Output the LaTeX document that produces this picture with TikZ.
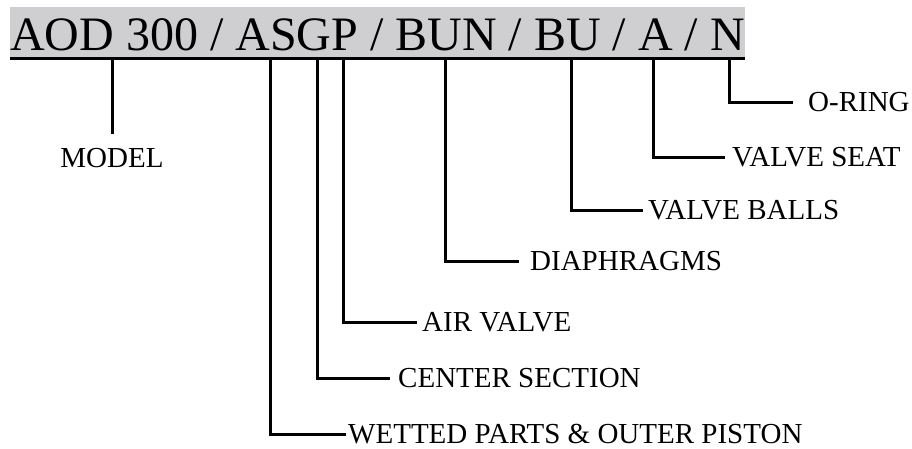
\documentclass[tikz,border=0pt]{standalone}
\usepackage{fontspec}
\setmainfont{Liberation Serif}
\definecolor{bandgray}{RGB}{207,207,209}
\begin{document}
\begin{tikzpicture}[x=1pt,y=-1pt,
  conn/.style={line width=3pt, line join=miter},
  lbl/.style={font=\fontsize{29}{31}\selectfont, inner sep=0pt, anchor=west}]
\useasboundingbox (0,0) rectangle (912,448);
\node[fill=bandgray, inner sep=0, minimum width=735pt, minimum height=50pt, anchor=north west] (band) at (10,7) {};
\node[font=\fontsize{48}{50}\selectfont, inner sep=0, anchor=base west] (code) at (10,50) {AOD 300 / ASGP / BUN / BU / A / N};
\draw[line width=3pt] ([yshift=-1.5pt]band.south west) -- ([yshift=-1.5pt]band.south east);
% tap points on the underline
\coordinate (tM) at (112,59);
\coordinate (tW) at (270,59);
\coordinate (tC) at (317,59);
\coordinate (tA) at (343,59);
\coordinate (tD) at (445,59);
\coordinate (tB) at (571,59);
\coordinate (tS) at (653,59);
\coordinate (tO) at (729,59);
% labels
\node[font=\fontsize{29}{31}\selectfont, inner sep=0pt, anchor=north] (model) at (112,148) {MODEL};
\node[lbl] (oring) at (808,102) {O-RING};
\node[lbl] (vseat) at (732,157) {VALVE SEAT};
\node[lbl] (vballs) at (648,210) {VALVE BALLS};
\node[lbl] (diaph) at (530,261) {DIAPHRAGMS};
\node[lbl] (airv) at (422,322) {AIR VALVE};
\node[lbl] (center) at (398,378) {CENTER SECTION};
\node[lbl] (wetted) at (348,434) {WETTED PARTS \& OUTER PISTON};
% connectors
\draw[conn] (tM) -- ([yshift=14pt]model.north);
\draw[conn] (tO) |- ([xshift=-15pt]oring.west);
\draw[conn] (tS) |- ([xshift=-7pt]vseat.west);
\draw[conn] (tB) |- ([xshift=-5pt]vballs.west);
\draw[conn] (tD) |- ([xshift=-11pt]diaph.west);
\draw[conn] (tA) |- ([xshift=-5pt]airv.west);
\draw[conn] (tC) |- ([xshift=-8pt]center.west);
\draw[conn] (tW) |- ([xshift=-2pt]wetted.west);
\end{tikzpicture}
\end{document}
